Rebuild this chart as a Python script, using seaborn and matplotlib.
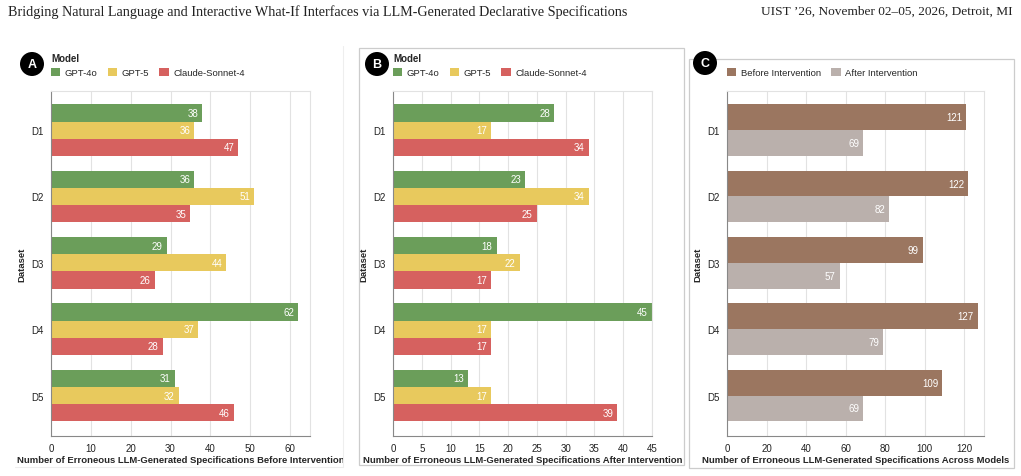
import matplotlib
matplotlib.use("Agg")
import matplotlib.pyplot as plt
import seaborn as sns
import pandas as pd
from matplotlib.patches import Ellipse, Rectangle
from matplotlib.lines import Line2D

# data
DATASETS = ["D1", "D2", "D3", "D4", "D5"]
MODELS = ["GPT-4o", "GPT-5", "Claude-Sonnet-4"]
before_gpt4o = [38, 36, 29, 62, 31]
before_gpt5 = [36, 51, 44, 37, 32]
before_claude = [47, 35, 26, 28, 46]
after_gpt4o = [28, 23, 18, 45, 13]
after_gpt5 = [17, 34, 22, 17, 17]
after_claude = [34, 25, 17, 17, 39]
STAGES = ["Before Intervention", "After Intervention"]
total_before = [121, 122, 99, 127, 109]
total_after = [69, 82, 57, 79, 69]

MODEL_COLORS = ["#6b9e5a", "#e8c95d", "#d6615f"]
STAGE_COLORS = ["#9b7660", "#bab0ac"]

W, H = 1021, 477
FONT = "Liberation Sans"


def long_df(series, names, group_col):
    rows = []
    for name, vals in zip(names, series):
        for d, v in zip(DATASETS, vals):
            rows.append({"Dataset": d, group_col: name, "Count": v})
    return pd.DataFrame(rows)


def px_axes(fig, x0, x1, y0=92, y1=437):
    return fig.add_axes([x0 / W, 1 - y1 / H, (x1 - x0) / W, (y1 - y0) / H])


def style_axes(ax, xmax, xticks, xlabel):
    ax.set_xlim(0, xmax)
    ax.set_ylim(4.61, -0.59)
    ax.set_xticks(xticks)
    ax.grid(axis="x", color="#e2e2e2", linewidth=0.8)
    ax.grid(axis="y", visible=False)
    ax.set_axisbelow(True)
    for side in ["top", "right"]:
        ax.spines[side].set_color("#e2e2e2")
        ax.spines[side].set_linewidth(0.8)
    for side in ["left", "bottom"]:
        ax.spines[side].set_color("#888888")
        ax.spines[side].set_linewidth(0.8)
    ax.tick_params(axis="both", length=3.6, width=0.8, color="#888888",
                   labelsize=7, labelcolor="#222222", pad=1.5)
    ax.set_xlabel(xlabel, fontsize=6.8, fontweight="bold", labelpad=1.5)
    ax.set_ylabel("Dataset", fontsize=6.8, fontweight="bold", labelpad=4)


def label_bars(ax):
    for cont in ax.containers:
        for bar in cont:
            v = bar.get_width()
            ax.annotate(f"{v:.0f}", (v, bar.get_y() + bar.get_height() / 2),
                        xytext=(-3, 0), textcoords="offset points",
                        ha="right", va="center", color="white", fontsize=7)


def add_legend(ax, title):
    leg = ax.legend(loc="lower left", bbox_to_anchor=(0, 1.04), ncol=3,
                    title=title, frameon=False, alignment="left",
                    borderaxespad=0, borderpad=0, handlelength=1.0,
                    handleheight=1.0, handletextpad=0.45, columnspacing=1.1,
                    fontsize=6.8, title_fontproperties={"weight": "bold", "size": 7})
    for h in leg.legend_handles:
        h.set_edgecolor("none")
    return leg


def badge(fig, cx, cy, letter):
    fig.patches.append(Ellipse((cx / W, 1 - cy / H), 24 / W, 24 / H,
                               transform=fig.transFigure, facecolor="black",
                               edgecolor="none", zorder=5))
    fig.text(cx / W, 1 - cy / H, letter, ha="center", va="center",
             color="white", fontsize=9, fontweight="bold", zorder=6)


sns.set_theme(style="white")
plt.rcParams["font.family"] = [FONT, "DejaVu Sans"]

fig = plt.figure(figsize=(W / 100, H / 100), dpi=100)

# panel frames
fig.lines.append(Line2D([343 / W, 343 / W], [1 - 47 / H, 1 - 468 / H],
                        transform=fig.transFigure, color="#eeeeee", lw=0.8))
fig.lines.append(Line2D([15 / W, 343 / W], [1 - 468 / H, 1 - 468 / H],
                        transform=fig.transFigure, color="#eeeeee", lw=0.8))
for x0, y0, x1, y1 in [(359, 49, 684, 466), (689, 60, 1014, 469)]:
    fig.patches.append(Rectangle((x0 / W, 1 - y1 / H), (x1 - x0) / W, (y1 - y0) / H,
                                 transform=fig.transFigure, fill=False,
                                 edgecolor="#cccccc", lw=0.9))

# A: before intervention
df_a = long_df([before_gpt4o, before_gpt5, before_claude], MODELS, "Model")
ax_a = px_axes(fig, 51, 310)
sns.barplot(data=df_a, y="Dataset", x="Count", hue="Model", orient="h",
            palette=MODEL_COLORS, saturation=1, width=0.78, linewidth=0, ax=ax_a)
style_axes(ax_a, 65, range(0, 61, 10),
           "Number of Erroneous LLM-Generated Specifications Before Intervention")
label_bars(ax_a)
add_legend(ax_a, "Model")

# B: after intervention
df_b = long_df([after_gpt4o, after_gpt5, after_claude], MODELS, "Model")
ax_b = px_axes(fig, 393, 652)
sns.barplot(data=df_b, y="Dataset", x="Count", hue="Model", orient="h",
            palette=MODEL_COLORS, saturation=1, width=0.78, linewidth=0, ax=ax_b)
style_axes(ax_b, 45, range(0, 46, 5),
           "Number of Erroneous LLM-Generated Specifications After Intervention")
label_bars(ax_b)
add_legend(ax_b, "Model")

# C: totals across models
df_c = long_df([total_before, total_after], STAGES, "Stage")
ax_c = px_axes(fig, 727, 984)
sns.barplot(data=df_c, y="Dataset", x="Count", hue="Stage", orient="h",
            palette=STAGE_COLORS, saturation=1, width=0.78, linewidth=0, ax=ax_c)
style_axes(ax_c, 130, range(0, 121, 20),
           "Number of Erroneous LLM-Generated Specifications Across Models")
label_bars(ax_c)
add_legend(ax_c, None)

badge(fig, 32, 65, "A")
badge(fig, 377, 65, "B")
badge(fig, 705, 64, "C")

# page header
fig.text(8 / W, 1 - 12 / H,
         "Bridging Natural Language and Interactive What-If Interfaces via LLM-Generated Declarative Specifications",
         ha="left", va="center", fontsize=10.2, family="Liberation Serif", color="#222222")
fig.text(1013 / W, 1 - 12 / H, "UIST \u201926, November 02\u201305, 2026, Detroit, MI",
         ha="right", va="center", fontsize=9.6, family="Liberation Serif", color="#222222")

fig.savefig("out.png", dpi=100)
